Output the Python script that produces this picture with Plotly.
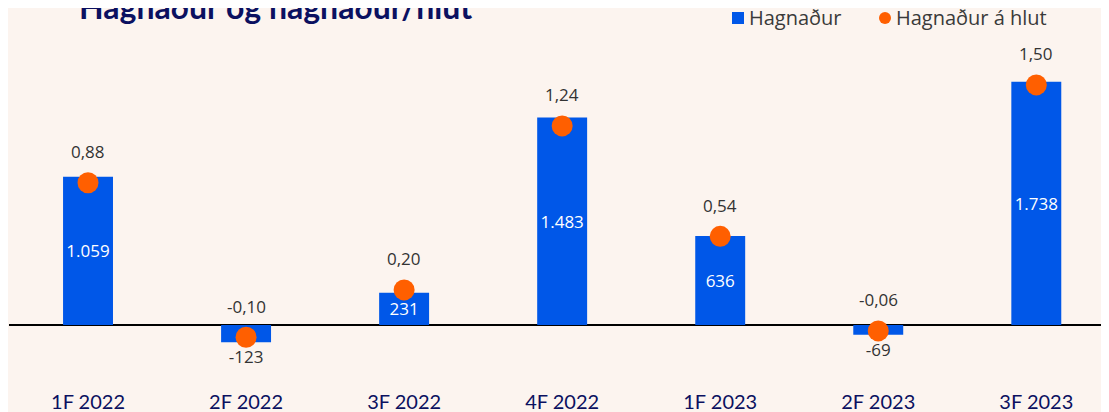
import plotly.graph_objects as go

# ---- data ----
categories = ["1F 2022", "2F 2022", "3F 2022", "4F 2022", "1F 2023", "2F 2023", "3F 2023"]
profit = [1059, -123, 231, 1483, 636, -69, 1738]          # Hagnaður
eps = [0.88, -0.10, 0.20, 1.24, 0.54, -0.06, 1.50]         # Hagnaður á hlut
title_text = "Hagnaður og hagnaður/hlut"
legend_labels = ["Hagnaður", "Hagnaður á hlut"]

# ---- style ----
W, H = 1109, 412
OFF = 8  # page offset of the figure (body margin)
ML, MR, MT, MB = 1, 8, 32, 43
BLUE = "#0057E8"
ORANGE = "#FF5F00"
BG = "#FCF4EF"
NAVY = "#0B1060"
DARK = "#333333"
FONT = "Open Sans"

plot_h = H - MT - MB
plot_w = W - ML - MR

def px_x(px):
    return (px - OFF - ML) / plot_w

def px_y(py):
    return (H - MB - (py - OFF)) / plot_h

fig = go.Figure()

text_pos = ["inside" if v >= 0 else "outside" for v in profit]
text_col = ["white" if v >= 0 else DARK for v in profit]

fig.add_trace(go.Bar(
    x=categories, y=profit, width=0.316,
    marker=dict(color=BLUE, line=dict(width=0)),
    texttemplate="%{y:,.0f}", textposition=text_pos,
    insidetextanchor="middle", textangle=0, constraintext="none",
    textfont=dict(color=text_col, size=17, family=FONT),
    cliponaxis=False, showlegend=False, yaxis="y",
))

fig.add_trace(go.Scatter(
    x=categories, y=eps, mode="markers",
    marker=dict(color=ORANGE, size=21, line=dict(width=0)),
    showlegend=False, yaxis="y2", cliponaxis=False,
))

annotations = []
for c, v in zip(categories, eps):
    annotations.append(dict(
        x=c, y=v, xref="x", yref="y2", text=f"{v:.2f}".replace(".", ","),
        showarrow=False, yshift=31, font=dict(size=17, color=DARK, family=FONT),
    ))

# title (clipped at top as in reference)
annotations.append(dict(
    x=px_x(77), y=px_y(6), xref="paper", yref="paper", xanchor="left", yanchor="middle",
    text=f"<b>{title_text}</b>", showarrow=False,
    font=dict(size=32, color=NAVY, family="Lato"),
))

# custom legend
shapes = [
    dict(type="rect", xref="paper", yref="paper",
         x0=px_x(732), x1=px_x(744), y0=px_y(24), y1=px_y(12),
         fillcolor=BLUE, line=dict(width=0)),
    dict(type="circle", xref="paper", yref="paper",
         x0=px_x(879), x1=px_x(891), y0=px_y(24), y1=px_y(12),
         fillcolor=ORANGE, line=dict(width=0)),
]
annotations.append(dict(
    x=px_x(747), y=px_y(18), xref="paper", yref="paper", xanchor="left", yanchor="middle",
    text=legend_labels[0], showarrow=False, font=dict(size=20, color="#3A3A3A", family=FONT),
))
annotations.append(dict(
    x=px_x(894), y=px_y(18), xref="paper", yref="paper", xanchor="left", yanchor="middle",
    text=legend_labels[1], showarrow=False, font=dict(size=20, color="#3A3A3A", family=FONT),
))

fig.update_layout(
    width=W, height=H,
    margin=dict(l=ML, r=MR, t=MT, b=MB, autoexpand=False),
    paper_bgcolor=BG, plot_bgcolor=BG,
    separators=",.",
    showlegend=False,
    xaxis=dict(range=[-0.5, 6.46], showgrid=False, showline=False, zeroline=False,
               ticks="", tickfont=dict(size=20, color=NAVY, family="Lato"),
               ticklabelstandoff=11),
    yaxis=dict(range=[-371, 2036], showgrid=False, showticklabels=False,
               zeroline=True, zerolinecolor="black", zerolinewidth=2),
    yaxis2=dict(range=[-0.352, 1.785], overlaying="y", side="right",
                showgrid=False, showticklabels=False, zeroline=False),
    annotations=annotations,
    shapes=shapes,
)

fig.write_html("out.html")
